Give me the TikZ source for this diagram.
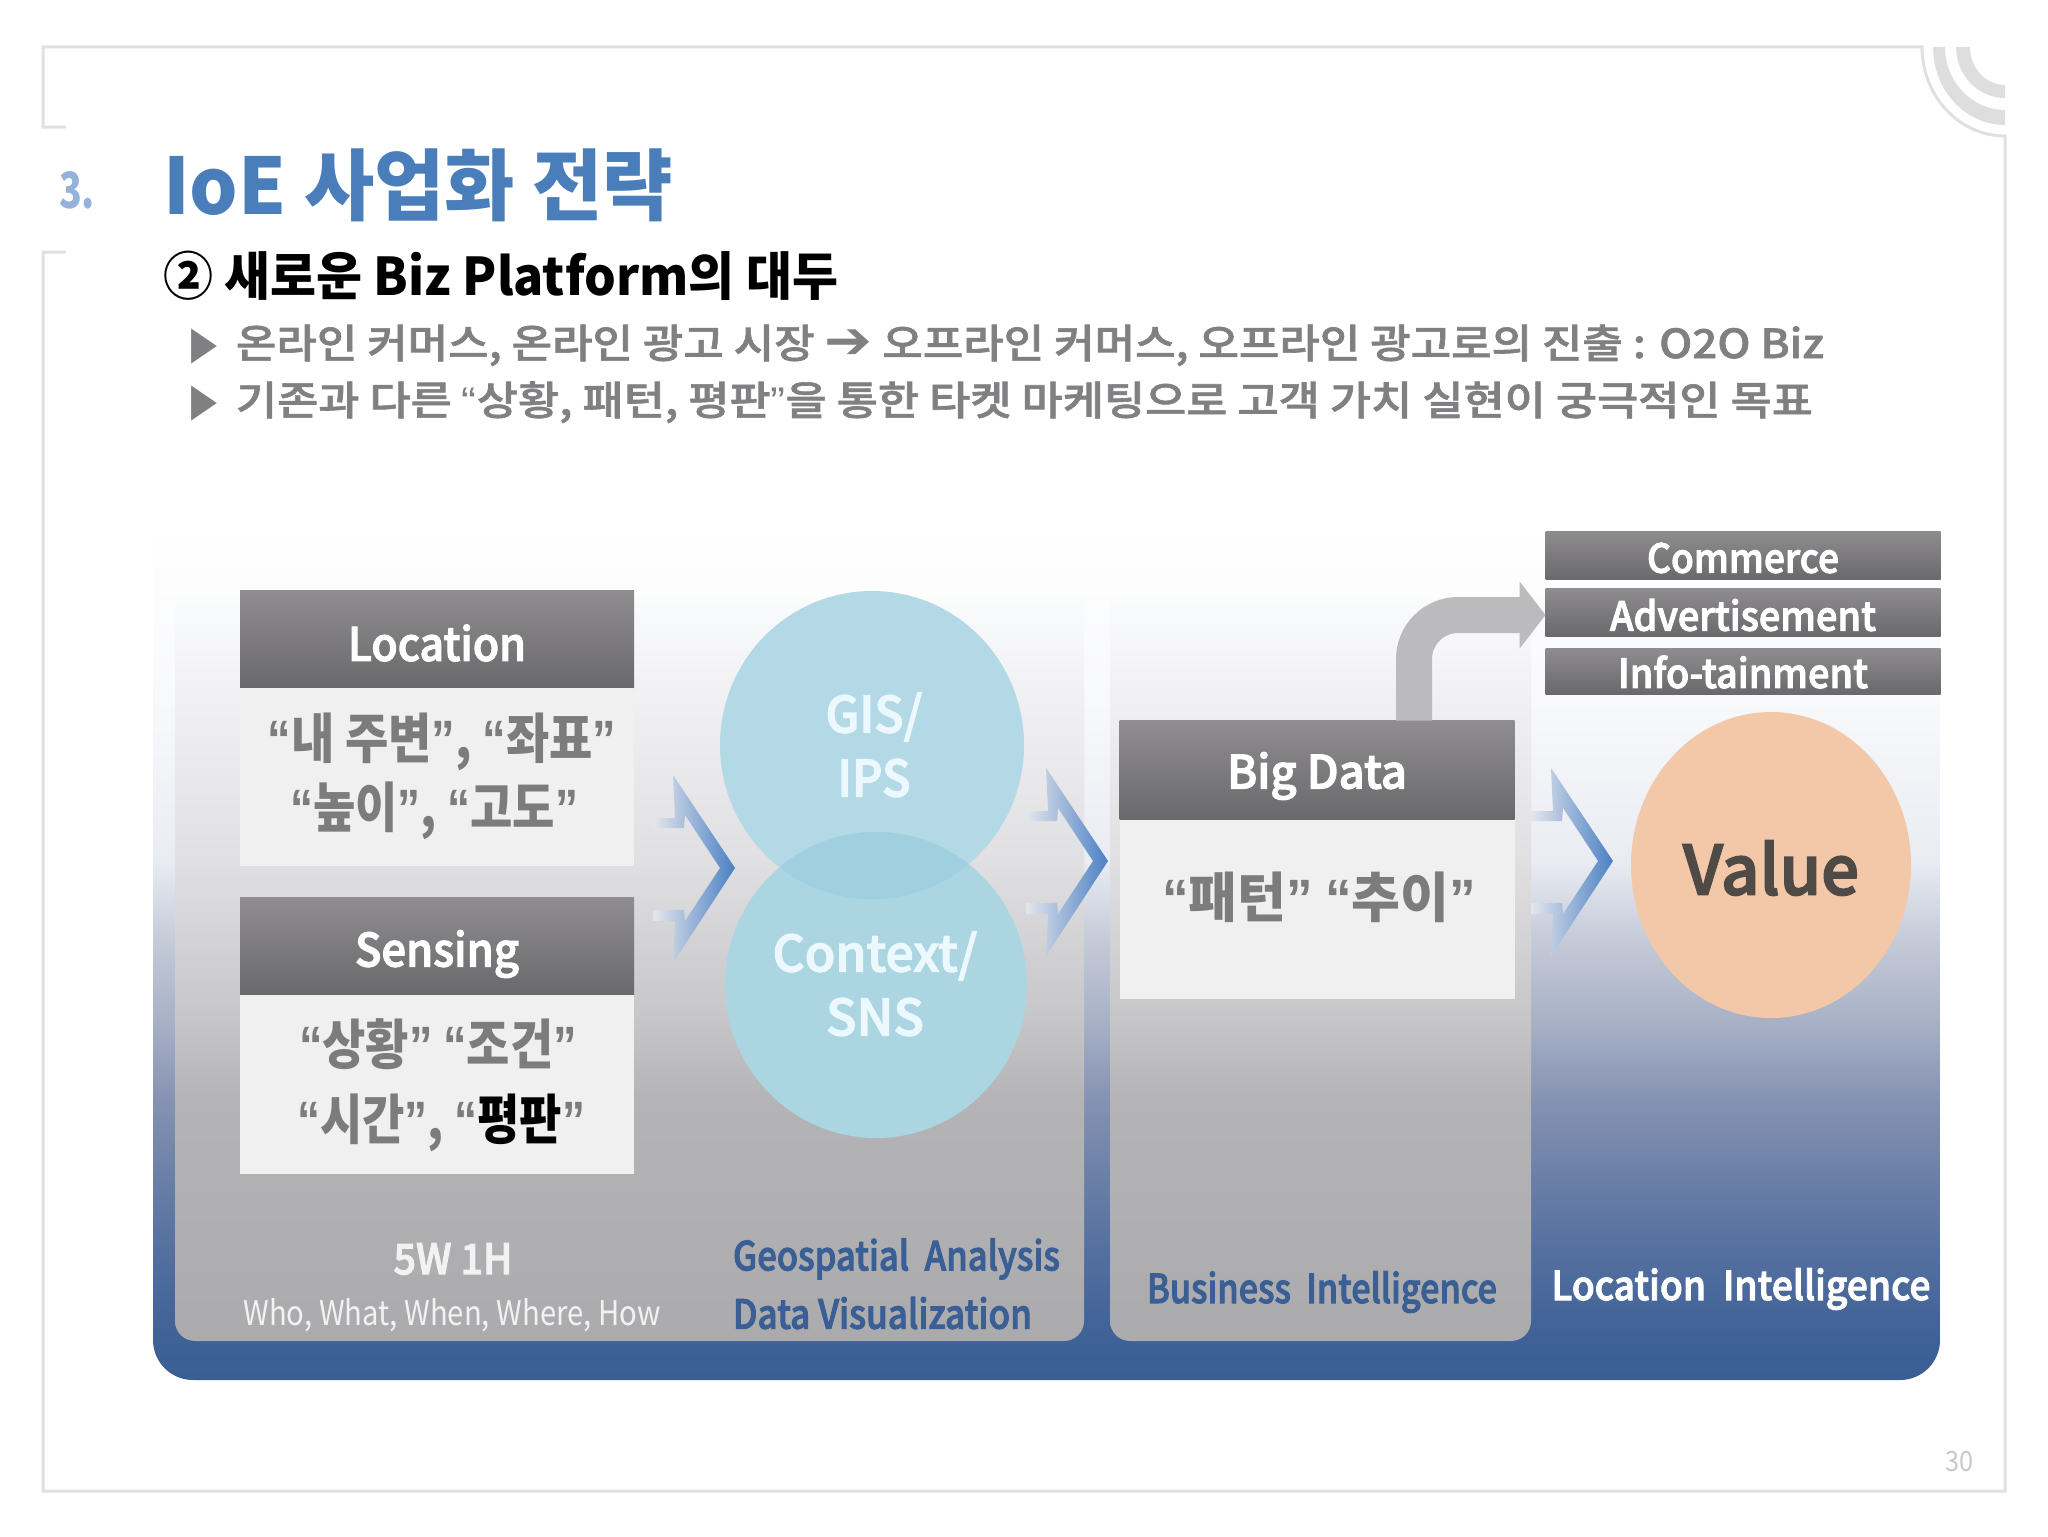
\documentclass[tikz,border=0pt]{standalone}
\usepackage{graphicx}
\usepackage{fontspec}
\usetikzlibrary{shapes.geometric,arrows.meta,positioning}
\setmainfont{Noto Sans CJK KR}
\newfontfamily\krsemi[RawFeature={embolden=2.5}]{Noto Sans CJK KR Medium}
\newfontfamily\krbody[RawFeature={embolden=1.5}]{Noto Sans CJK KR Medium}
\newfontfamily\dejavu{DejaVu Sans}
\newfontfamily\qf{Liberation Sans}
\newcommand\qo{{\qf “}}
\newcommand\qc{{\qf ”}}
\newsavebox\fitbox
\newcommand\T[3]{\sbox\fitbox{\fontsize{#2}{#2}\selectfont #3}\pgfmathparse{#1*0.5/\wd\fitbox}\scalebox{\pgfmathresult}[1]{\usebox\fitbox}}
\definecolor{frameC}{HTML}{E0E0E0}
\definecolor{bandC}{HTML}{DEDEDE}
\definecolor{titleC}{HTML}{4A7EBB}
\definecolor{numC}{HTML}{94B2DA}
\definecolor{bodyC}{HTML}{808082}
\definecolor{boxC}{HTML}{F0F0F0}
\definecolor{innerC}{HTML}{7C7C7C}
\definecolor{navyC}{HTML}{3A5F95}
\definecolor{flowC}{HTML}{BBBBBD}
\definecolor{hdTop}{HTML}{8F8D90}
\definecolor{hdBot}{HTML}{69686B}
\definecolor{numGrey}{HTML}{C8C8C8}
\definecolor{chevA}{HTML}{E4E6EC}
\definecolor{chevB}{HTML}{A8B8D4}
\definecolor{chevC}{HTML}{4A80C4}
\pgfdeclareverticalshading{bgshade}{100bp}{color(0bp)=(rgb,255:red,58;green,95;blue,149);
 color(25bp)=(rgb,255:red,58;green,95;blue,149);
 color(27.3bp)=(rgb,255:red,62;green,97;blue,150);
 color(32bp)=(rgb,255:red,82;green,110;blue,159);
 color(36.7bp)=(rgb,255:red,106;green,127;blue,166);
 color(41.3bp)=(rgb,255:red,133;green,146;blue,178);
 color(46bp)=(rgb,255:red,168;green,177;blue,198);
 color(50.6bp)=(rgb,255:red,197;green,202;blue,216);
 color(55.3bp)=(rgb,255:red,233;green,236;blue,242);
 color(64.6bp)=(rgb,255:red,248;green,249;blue,251);
 color(75bp)=(rgb,255:red,255;green,255;blue,255);
 color(100bp)=(rgb,255:red,255;green,255;blue,255)}
\pgfdeclareverticalshading{panelshade}{100bp}{color(0bp)=(rgb,255:red,171;green,171;blue,173);
 color(25bp)=(rgb,255:red,171;green,171;blue,173);
 color(41.3bp)=(rgb,255:red,180;green,179;blue,181);
 color(46.7bp)=(rgb,255:red,198;green,198;blue,200);
 color(57.5bp)=(rgb,255:red,224;green,224;blue,226);
 color(68.2bp)=(rgb,255:red,240;green,240;blue,242);
 color(75bp)=(rgb,255:red,250;green,251;blue,252);
 color(100bp)=(rgb,255:red,250;green,251;blue,252)}
\tikzset{
 px/.style 2 args={minimum width=#1*0.5pt,minimum height=#2*0.5pt,inner sep=0pt,outer sep=0pt},
 hdbox/.style={rectangle,top color=hdTop,bottom color=hdBot},
 bodybox/.style={rectangle,fill=boxC},
 lbl/.style={inner sep=0pt,outer sep=0pt},
 flow/.style={draw=flowC,line width=18pt,rounded corners=22pt,-{Triangle[length=13pt,width=33pt]}},
 circ/.style={ellipse,draw=none},
 frameline/.style={draw=frameC,line width=1.5pt,line cap=round},
}
\newcommand\chevron[2]{\begin{scope}[shift={(#1,#2)}]
 \shade[left color=chevA,middle color=chevB,right color=chevC]
 (0,0) -- (62,93) -- (0,188) -- (2,146) -- (-20,146) -- (-20,135) -- (11,135) -- (12,146) -- (47,93) -- (12,40) -- (11,53) -- (-20,53) -- (-20,43) -- (2,43) -- cycle;
\end{scope}}
\begin{document}
\begin{tikzpicture}[x=0.5pt,y=-0.5pt]
\useasboundingbox (0,0) rectangle (2048,1536);
% frame
\draw[frameline] (65,127) -- (43,127) -- (43,47) -- (1922,47) arc[start angle=180,end angle=90,x radius=83,y radius=89] -- (2005,1491) -- (43,1491) -- (43,252) -- (65,252);
\fill[bandC] (1933,47) arc[start angle=180,end angle=90,x radius=72,y radius=78] -- (2005,110) arc[start angle=90,end angle=180,x radius=60,y radius=63] -- cycle;
\fill[bandC] (1956,47) arc[start angle=180,end angle=90,x radius=49,y radius=51] -- (2005,85) arc[start angle=90,end angle=180,x radius=35,y radius=38] -- cycle;
% headings
\node[lbl,text=numC] (num) at (77,190) {\T{36}{25}{\bfseries 3.}};
\node[lbl,text=titleC,anchor=base west] (title) at (163,214) {\T{510}{39}{\bfseries IoE 사업화 전략}};
\node[lbl,text=black,anchor=base west] (sub) at (163,295) {\T{675}{26}{\bfseries ② 새로운 Biz Platform의 대두}};
\node[lbl,text=bodyC] (b1) at (204,347) {\T{26}{23}{\dejavu ▶}};
\node[lbl,text=bodyC] (b2) at (204,404) {\T{26}{23}{\dejavu ▶}};
\node[lbl,text=bodyC,anchor=base west] (l1) at (236,358) {\T{1588}{20}{\krbody 온라인 커머스, 온라인 광고 시장 {\dejavu\fontsize{26}{26}\selectfont ➔} 오프라인 커머스, 오프라인 광고로의 진출 : O2O Biz}};
\node[lbl,text=bodyC,anchor=base west] (l2) at (236,415) {\T{1577}{20}{\krbody 기존과 다른 \qo 상황, 패턴, 평판\qc 을 통한 타켓 마케팅으로 고객 가치 실현이 궁극적인 목표}};
% background and panels
\path[shading=bgshade] (153,522) -- (1940,522) -- (1940,1340) arc[start angle=0,end angle=90,radius=40] -- (193,1380) arc[start angle=90,end angle=180,radius=40] -- cycle;
\path[shading=panelshade] (175,600) -- (1084,600) -- (1084,1321) arc[start angle=0,end angle=90,radius=20] -- (195,1341) arc[start angle=90,end angle=180,radius=20] -- cycle;
\path[shading=panelshade] (1110,600) -- (1531,600) -- (1531,1321) arc[start angle=0,end angle=90,radius=20] -- (1130,1341) arc[start angle=90,end angle=180,radius=20] -- cycle;
% chevrons
\chevron{673}{775}
\chevron{1046}{768}
\chevron{1551}{768}
% left column
\node[hdbox,px={394}{98}] (loc) at (437,639) {};
\node[bodybox,px={394}{178},below=0pt of loc] (locb) {};
\node[hdbox,px={394}{98}] (sen) at (437,946) {};
\node[bodybox,px={394}{179},below=0pt of sen] (senb) {};
\node[lbl,text=white] (tloc) at (437,643) {\T{178}{23}{\krsemi Location}};
\node[lbl,text=white] (tsen) at (437,954) {\T{164}{23}{\krsemi Sensing}};
\node[lbl,text=innerC] (t1) at (442,742) {\T{349}{27}{\bfseries \qo 내 주변\qc, \qo 좌표\qc}};
\node[lbl,text=innerC] (t2) at (434,811) {\T{288}{27}{\bfseries \qo 높이\qc, \qo 고도\qc}};
\node[lbl,text=innerC] (t3) at (438,1044) {\T{278}{27}{\bfseries \qo 상황\qc\ \qo 조건\qc}};
\node[lbl,text=innerC] (t4) at (441,1123) {\T{288}{27}{\bfseries \qo 시간\qc, \qo \textcolor{black}{평판}\qc}};
% circles
\node[circ,px={304}{308},fill={rgb,255:red,179;green,216;blue,230}] (gis) at (872,745) {};
\node[circ,px={302}{306},fill={rgb,255:red,170;green,213;blue,225}] (ctx) at (876,985) {};
\begin{scope}
\clip (872,745) ellipse [x radius=152,y radius=154];
\fill[fill={rgb,255:red,160;green,207;blue,223}] (876,985) ellipse [x radius=151,y radius=153];
\end{scope}
\node[lbl,text=white!92!cyan] (g1) at (874,717) {\T{97}{25}{\krsemi GIS/}};
\node[lbl,text=white!92!cyan] (g2) at (874,778) {\T{73}{25}{\krsemi IPS}};
\node[lbl,text=white!92!cyan] (c1) at (875,956) {\T{205}{25}{\krsemi Context/}};
\node[lbl,text=white!92!cyan] (c2) at (875,1017) {\T{98}{25}{\krsemi SNS}};
% big data
\node[hdbox,px={395}{99}] (bd) at (1317,770) {};
\node[bodybox,px={395}{179},below=0pt of bd] (bdb) {};
\node[lbl,text=white] (tbd) at (1317,776) {\T{180}{23}{\krsemi Big Data}};
\node[lbl,text=innerC] (t5) at (1319,897) {\T{314}{27}{\bfseries \qo 패턴\qc\ \qo 추이\qc}};
% outputs
\node[hdbox,px={395}{48}] (com) at (1743,555) {};
\node[hdbox,px={395}{48}] (adv) at (1743,612) {};
\node[hdbox,px={395}{46}] (inf) at (1743,671) {};
\node[lbl,text=white] (tcom) at (1743,558) {\T{192}{20}{\krsemi Commerce}};
\node[lbl,text=white] (tadv) at (1743,615) {\T{266}{20}{\krsemi Advertisement}};
\node[lbl,text=white] (tinf) at (1743,672) {\T{250}{20}{\krsemi Info-tainment}};
\coordinate (bdout) at ([xshift=48.5pt]bd.north);
\coordinate (advin) at ([yshift=-1.5pt]adv.west);
\draw[flow] (bdout) |- (advin);
% value
\node[ellipse,draw=none,fill={rgb,255:red,242;green,200;blue,168},px={280}{306}] (val) at (1771,865) {};
\node[lbl,text={rgb,255:red,79;green,74;blue,69}] (tval) at (1771,868) {\T{176}{34}{\krsemi Value}};
% captions
\node[lbl,text=white!95!black] (w1) at (453,1259) {\T{119}{21}{\krsemi 5W 1H}};
\node[lbl,text=white!95!black] (w2) at (452,1315) {\T{417}{17}{Who, What, When, Where, How}};
\node[lbl,text=navyC,anchor=west] (d1) at (733,1259) {\T{327}{20}{\krsemi Geospatial\ \ Analysis}};
\node[lbl,text=navyC,anchor=west] (d2) at (733,1313) {\T{299}{20}{\krsemi Data Visualization}};
\node[lbl,text=navyC] (d3) at (1322,1292) {\T{350}{20}{\krsemi Business\ \ Intelligence}};
\node[lbl,text=white] (d4) at (1741,1289) {\T{379}{20}{\krsemi Location\ \ Intelligence}};
\node[lbl,text=numGrey] (pg) at (1959,1461) {\T{28}{14}{30}};
\end{tikzpicture}
\end{document}
